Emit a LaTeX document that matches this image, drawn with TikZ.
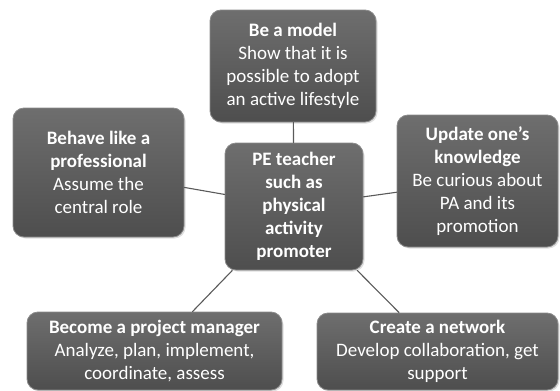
\documentclass[tikz,border=0pt]{standalone}
\usepackage{fontspec}
\setmainfont{Carlito}
\usetikzlibrary{shadows}
\definecolor{boxtop}{HTML}{6E6E6E}
\definecolor{boxbot}{HTML}{4E4E4E}
\definecolor{boxrim}{HTML}{8A8A8A}
\definecolor{linkgray}{HTML}{5A5A5A}
\tikzset{
  pebox/.style={rectangle, rounded corners=11pt, draw=boxrim, line width=0.8pt,
    top color=boxtop, bottom color=boxbot, text=white, align=center, inner sep=2pt,
    font=\fontsize{19}{23}\selectfont,
    drop shadow={opacity=0.25, shadow xshift=1.5pt, shadow yshift=-1.5pt}},
  link/.style={draw=linkgray, line width=1.1pt}
}
\begin{document}
\begin{tikzpicture}[x=1pt, y=-1pt, line cap=round]
\useasboundingbox (0,0) rectangle (560,391);
% centre
\node[pebox, minimum width=138pt, minimum height=127pt] (pe) at (294,206.5)
  {\textbf{PE teacher}\\\textbf{such as}\\\textbf{physical}\\\textbf{activity}\\\textbf{promoter}};
% roles
\node[pebox, minimum width=166pt, minimum height=112pt] (model) at (293,66)
  {\textbf{Be a model}\\Show that it is\\possible to adopt\\an active lifestyle};
\node[pebox, minimum width=171pt, minimum height=129pt] (prof) at (98.5,172.5)
  {\textbf{Behave like a}\\\textbf{professional}\\Assume the\\central role};
\node[pebox, minimum width=161pt, minimum height=132pt] (know) at (477.5,181)
  {\textbf{Update one’s}\\\textbf{knowledge}\\Be curious about\\PA and its\\promotion};
\node[pebox, minimum width=255pt, minimum height=78pt] (proj) at (154.5,351)
  {\textbf{Become a project manager}\\Analyze, plan, implement,\\coordinate, assess};
\node[pebox, minimum width=241pt, minimum height=77pt] (net) at (437.5,351.5)
  {\textbf{Create a network}\\Develop collaboration, get\\support};
% links
\draw[link] (model) -- (pe);
\draw[link] (prof) -- (pe);
\draw[link] (pe) -- (know);
\draw[link] (pe) -- (proj);
\draw[link] (pe) -- (net);
\end{tikzpicture}
\end{document}
